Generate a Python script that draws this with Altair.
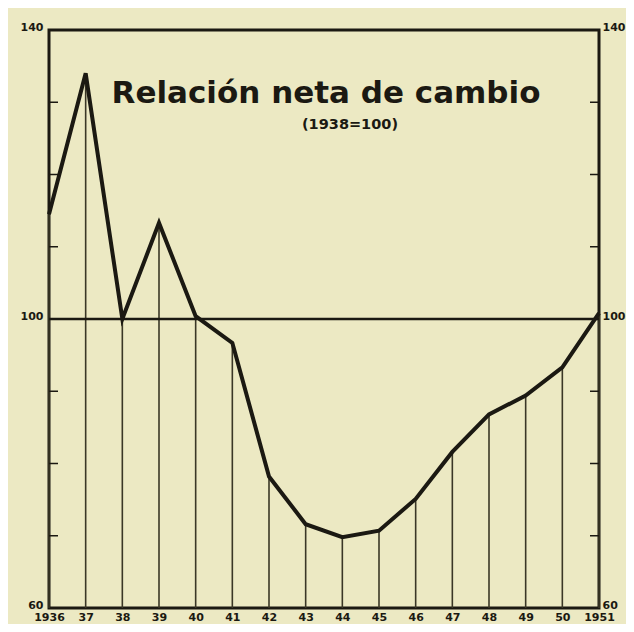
import altair as alt
import pandas as pd

years = ["1936", "37", "38", "39", "40", "41", "42", "43", "44", "45",
         "46", "47", "48", "49", "50", "1951"]
values = [114.5, 134.0, 100.0, 113.3, 100.4, 96.7, 78.2, 71.6, 69.8, 70.7,
          75.1, 81.6, 86.8, 89.4, 93.3, 100.8]
minor_ticks = [70, 80, 90, 110, 120, 130]
major_ticks = [60, 100, 140]

BG = "#ECE9C3"
INK = "#1b1912"

df = pd.DataFrame({"year": years, "value": values})
ticks_df = pd.DataFrame({"t": minor_ticks})

W, H = 550, 578
ydom = [60, 140]

xaxis = alt.Axis(title=None, labelAngle=0, domain=False, ticks=False,
                 labelPadding=3, labelFont="DejaVu Sans", labelFontSize=11,
                 labelFontWeight="bold", labelColor=INK, labelBaseline="top")

def xenc():
    return alt.X("year:O", sort=years, scale=alt.Scale(type="point", padding=0), axis=xaxis)

def ysc():
    return alt.Scale(domain=ydom, nice=False, zero=False)

def yaxis(orient, pad):
    return alt.Axis(orient=orient, values=major_ticks, title=None, domain=False,
                    ticks=False, grid=False, labelPadding=pad, labelBaseline="alphabetic",
                    labelFont="DejaVu Sans", labelFontSize=11, labelFontWeight="bold",
                    labelColor=INK)

base = alt.Chart(df)

drops = base.mark_rule(color="#3a3726", strokeWidth=1.6).encode(
    x=xenc(),
    y=alt.Y("value:Q", scale=ysc(), axis=None),
    y2=alt.datum(60),
)

left_ticks = alt.Chart(ticks_df).mark_rule(color=INK, strokeWidth=1.5).encode(
    x=alt.value(0), x2=alt.value(9),
    y=alt.Y("t:Q", scale=ysc(), axis=None),
)
right_ticks = alt.Chart(ticks_df).mark_rule(color=INK, strokeWidth=1.5).encode(
    x=alt.value(W - 9), x2=alt.value(W),
    y=alt.Y("t:Q", scale=ysc(), axis=yaxis("right", 3)),
)

ref100 = alt.Chart(pd.DataFrame({"r": [100]})).mark_rule(color=INK, strokeWidth=2.5).encode(
    y=alt.Y("r:Q", scale=ysc(), axis=yaxis("left", 6)),
)

line = base.mark_line(color=INK, strokeWidth=4, strokeJoin="miter").encode(
    x=xenc(),
    y=alt.Y("value:Q", scale=ysc(), axis=None),
)

title = alt.Chart(pd.DataFrame({"t": ["Relación neta de cambio"]})).mark_text(
    font="DejaVu Sans", fontSize=31, fontWeight="bold", color=INK, align="center", baseline="alphabetic"
).encode(text="t:N", x=alt.value(277), y=alt.value(73))

subtitle = alt.Chart(pd.DataFrame({"t": ["(1938=100)"]})).mark_text(
    font="DejaVu Sans", fontSize=14.5, fontWeight="bold", color=INK, align="center", baseline="alphabetic"
).encode(text="t:N", x=alt.value(301), y=alt.value(99))

chart = alt.layer(drops, left_ticks, right_ticks, ref100, line, title, subtitle).resolve_scale(
    y="independent"
).properties(
    width=W, height=H,
    background=BG,
    autosize=alt.AutoSizeParams(type="none"),
    padding={"left": 41, "top": 22, "right": 27, "bottom": 16},
).configure_view(stroke=INK, strokeWidth=3)

chart.save("out.html", embed_options={"renderer": "svg", "actions": False})
